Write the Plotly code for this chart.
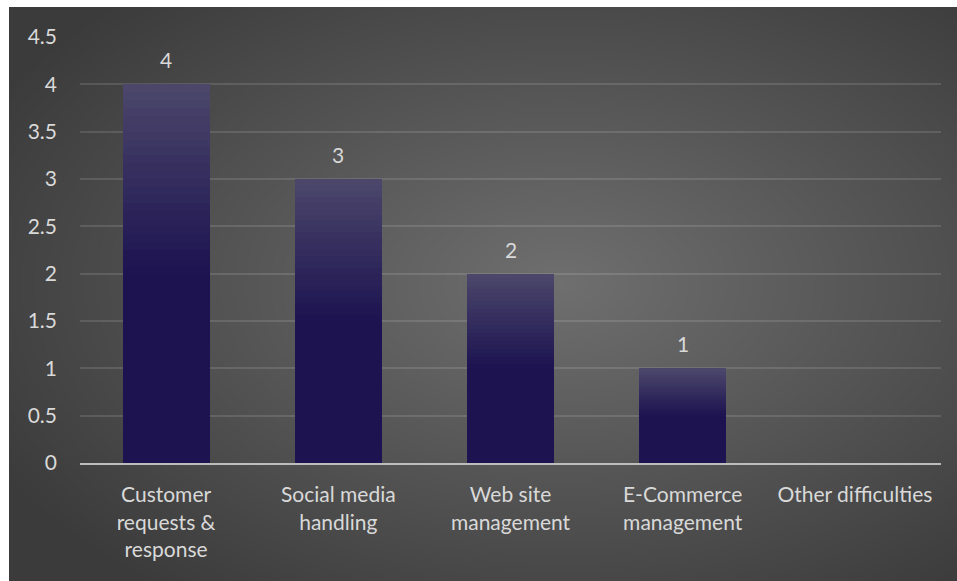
import base64
import struct
import zlib

import numpy as np
import plotly.graph_objects as go

# ---- data -------------------------------------------------------------
categories = [
    "Customer<br>requests &<br>response",
    "Social media<br>handling",
    "Web site<br>management",
    "E-Commerce<br>management",
    "Other difficulties",
]
values = [4, 3, 2, 1, 0]
y_ticks = [0, 0.5, 1, 1.5, 2, 2.5, 3, 3.5, 4, 4.5]
y_tick_labels = ["0", "0.5", "1", "1.5", "2", "2.5", "3", "3.5", "4", "4.5"]

# ---- styling ----------------------------------------------------------
FONT = "Lato"
FS = 21
TEXT = "#d9d9d9"
BAR_TOP = np.array([0x4c, 0x47, 0x6b])
BAR_DARK = np.array([0x1c, 0x13, 0x50])
N_SEG = 48


def png_uri(rgb):
    """Encode an HxWx3 uint8 array as a PNG data URI."""
    h, w, _ = rgb.shape
    raw = b"".join(b"\x00" + rgb[r].tobytes() for r in range(h))

    def chunk(tag, data):
        c = struct.pack(">I", len(data)) + tag + data
        return c + struct.pack(">I", zlib.crc32(tag + data) & 0xFFFFFFFF)

    png = b"\x89PNG\r\n\x1a\n"
    png += chunk(b"IHDR", struct.pack(">IIBBBBB", w, h, 8, 2, 0, 0, 0))
    png += chunk(b"IDAT", zlib.compress(raw, 9))
    png += chunk(b"IEND", b"")
    return "data:image/png;base64," + base64.b64encode(png).decode()


# radial grey background for the chart panel
W, H = 320, 194
yy, xx = np.mgrid[0:H, 0:W].astype(float)
cx, cy = 0.58 * W, 0.48 * H
d = np.sqrt(((xx - cx) / (0.68 * W)) ** 2 + ((yy - cy) / (0.68 * H)) ** 2)
d = np.clip(d, 0, 1)
center = np.array([0x6f, 0x6f, 0x6f], float)
edge = np.array([0x3b, 0x3b, 0x3b], float)
bg = (center[None, None, :] * (1 - d[..., None]) + edge[None, None, :] * d[..., None])
bg_uri = png_uri(bg.round().astype(np.uint8))

fig = go.Figure()

# each bar is built from stacked slices so the fill can fade from top to bottom
vals = np.array(values, float)
for k in range(N_SEG):
    # k = 0 is the bottom slice
    t = 1 - (k + 0.5) / N_SEG  # 0 at top, 1 at bottom
    f = min(t / 0.5, 1.0)
    col = BAR_TOP * (1 - f) + BAR_DARK * f
    fig.add_trace(go.Bar(
        x=categories,
        y=vals / N_SEG,
        marker=dict(color="rgb(%d,%d,%d)" % tuple(col.round()), line=dict(width=0)),
        hoverinfo="skip",
        showlegend=False,
    ))

# value labels above the bars
for c, v in zip(categories, values):
    if v > 0:
        fig.add_annotation(
            x=c, y=v, text=str(v), showarrow=False,
            yanchor="bottom", yshift=10,
            font=dict(family=FONT, size=FS, color=TEXT),
        )

L, R, T, B = 80, 16, 37, 118
PW, PH = 957 - L - R, 581 - T - B

fig.add_layout_image(
    source=bg_uri, xref="paper", yref="paper",
    x=(9 - L) / PW, y=(T + PH - 7) / PH,
    sizex=(957 - 9) / PW, sizey=(581 - 7) / PH,
    xanchor="left", yanchor="top", sizing="stretch", layer="below",
)

fig.update_layout(
    width=957, height=581,
    margin=dict(l=L, r=R, t=T, b=B),
    paper_bgcolor="white",
    plot_bgcolor="rgba(0,0,0,0)",
    barmode="stack",
    bargap=0.495,
    font=dict(family=FONT, size=FS, color=TEXT),
    xaxis=dict(
        showgrid=False, showline=True, linecolor="#bdbdbd", linewidth=2,
        ticks="", ticklabelstandoff=12,
        tickfont=dict(family=FONT, size=FS, color=TEXT),
    ),
    yaxis=dict(
        range=[0, 4.5], tickvals=y_ticks, ticktext=y_tick_labels,
        showgrid=True, gridcolor="rgba(255,255,255,0.12)", gridwidth=2,
        zeroline=False, showline=False, ticks="", ticklabelstandoff=22,
        tickfont=dict(family=FONT, size=FS, color=TEXT),
    ),
)

fig.write_html("out.html")
